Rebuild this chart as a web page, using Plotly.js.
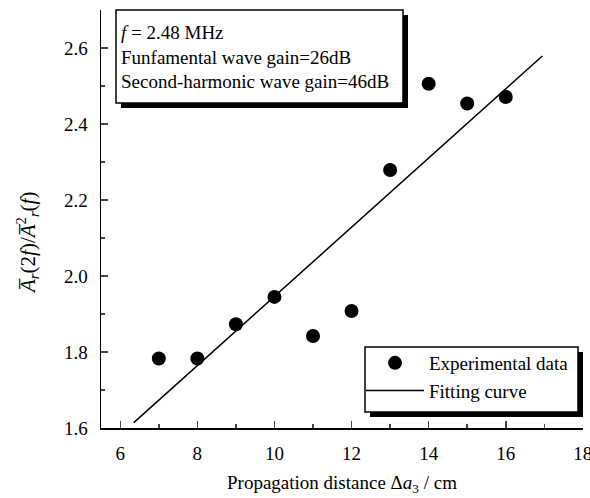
<!DOCTYPE html>
<html>
<head>
<meta charset="utf-8">
<script src="https://cdn.plot.ly/plotly-3.0.1.min.js"></script>
<style>html,body{margin:0;padding:0;background:#fff;}#chart{width:590px;height:498px;}</style>
</head>
<body>
<div id="chart"></div>
<script>
// Data
const distance = [7, 8, 9, 10, 11, 12, 13, 14, 15, 16];
const ratio = [1.783, 1.783, 1.873, 1.945, 1.842, 1.908, 2.279, 2.506, 2.454, 2.471];
const fitX = [6.35, 16.95];
const fitY = [1.614, 2.579];
const xTicks = [6, 8, 10, 12, 14, 16, 18];
const yTicks = [1.6, 1.8, 2.0, 2.2, 2.4, 2.6];
const yTickText = ['1.6', '1.8', '2.0', '2.2', '2.4', '2.6'];

const F = '"Liberation Serif", "Times New Roman", serif';
const FS = 19;

// plot area in px
const L = 101, R = 583, T = 10, B = 428;
const W = R - L, H = B - T;
function px(x){ return (x - L) / W; }
function py(y){ return (B - y) / H; }

const traces = [
  {x: distance, y: ratio, mode: 'markers', type: 'scatter', name: 'Experimental data',
   marker: {color: '#000', size: 14, symbol: 'circle'}, cliponaxis: false},
  {x: fitX, y: fitY, mode: 'lines', type: 'scatter', name: 'Fitting curve',
   line: {color: '#000', width: 1.5}}
];

const sh = 5;
const layout = {
  width: 590, height: 498,
  margin: {l: L, r: 590 - R, t: T, b: 498 - B},
  paper_bgcolor: '#fff', plot_bgcolor: '#fff',
  font: {family: F, size: FS, color: '#000'},
  showlegend: true,
  legend: {x: px(574), y: py(410), xanchor: 'right', yanchor: 'bottom',
           bgcolor: 'rgba(0,0,0,0)', borderwidth: 0,
           font: {family: F, size: FS}, tracegroupgap: 0, itemwidth: 58},
  xaxis: {range: [5.5, 18.004], tickvals: xTicks, ticks: 'inside', ticklen: 7, tickwidth: 1.5,
          showline: true, linecolor: '#000', linewidth: 1.5, showgrid: false, zeroline: false,
          tickfont: {family: F, size: FS}, ticklabelstandoff: 8, ticklabeloverflow: 'allow',
          minor: {dtick: 1, tick0: 5, ticks: 'inside', ticklen: 4, tickwidth: 1.5, showgrid: false},
          title: {text: 'Propagation distance Δ<i>a</i><sub>3</sub> / cm', font: {family: F, size: FS}, standoff: 12}},
  yaxis: {range: [1.6, 2.7], tickvals: yTicks, ticktext: yTickText,
          ticks: 'inside', ticklen: 7, tickwidth: 1.5,
          showline: true, linecolor: '#000', linewidth: 1.5, showgrid: false, zeroline: false,
          tickfont: {family: F, size: FS}, ticklabelstandoff: 8,
          minor: {dtick: 0.1, tick0: 1.6, ticks: 'inside', ticklen: 4, tickwidth: 1.5, showgrid: false}},
  shapes: [
    // annotation box shadow + box
    {type: 'rect', xref: 'paper', yref: 'paper', x0: px(116 + sh), x1: px(403 + sh), y0: py(103 + sh), y1: py(10 + sh),
     fillcolor: '#000', line: {width: 0}, layer: 'above'},
    {type: 'rect', xref: 'paper', yref: 'paper', x0: px(116), x1: px(403), y0: py(103), y1: py(10),
     fillcolor: '#fff', line: {color: '#000', width: 1.5}, layer: 'above'},
    // legend box shadow + box
    {type: 'rect', xref: 'paper', yref: 'paper', x0: px(365 + sh), x1: px(578 + sh), y0: py(412 + sh), y1: py(347 + sh),
     fillcolor: '#000', line: {width: 0}, layer: 'above'},
    {type: 'rect', xref: 'paper', yref: 'paper', x0: px(365), x1: px(578), y0: py(412), y1: py(347),
     fillcolor: '#fff', line: {color: '#000', width: 1.5}, layer: 'above'}
  ],
  annotations: [
    {xref: 'paper', yref: 'paper', x: px(119), y: py(20), xanchor: 'left', yanchor: 'top', align: 'left', showarrow: false,
     text: '<i>f</i> = 2.48 MHz<br>Funfamental wave gain=26dB<br>Second-harmonic wave gain=46dB',
     font: {family: F, size: FS, color: '#000'}},
    {xref: 'paper', yref: 'paper', x: px(27), y: py(243), xanchor: 'center', yanchor: 'middle', textangle: -90, showarrow: false,
     text: '<i>A\u0305</i><sub><i>r</i></sub>(2<i>f</i>)/<i>A\u0305</i><sup>2</sup><sub><i>r</i></sub>(<i>f</i>)',
     font: {family: F, size: 21, color: '#000'}}
  ]
};

Plotly.newPlot('chart', traces, layout, {displayModeBar: false, staticPlot: true});
</script>
</body>
</html>
